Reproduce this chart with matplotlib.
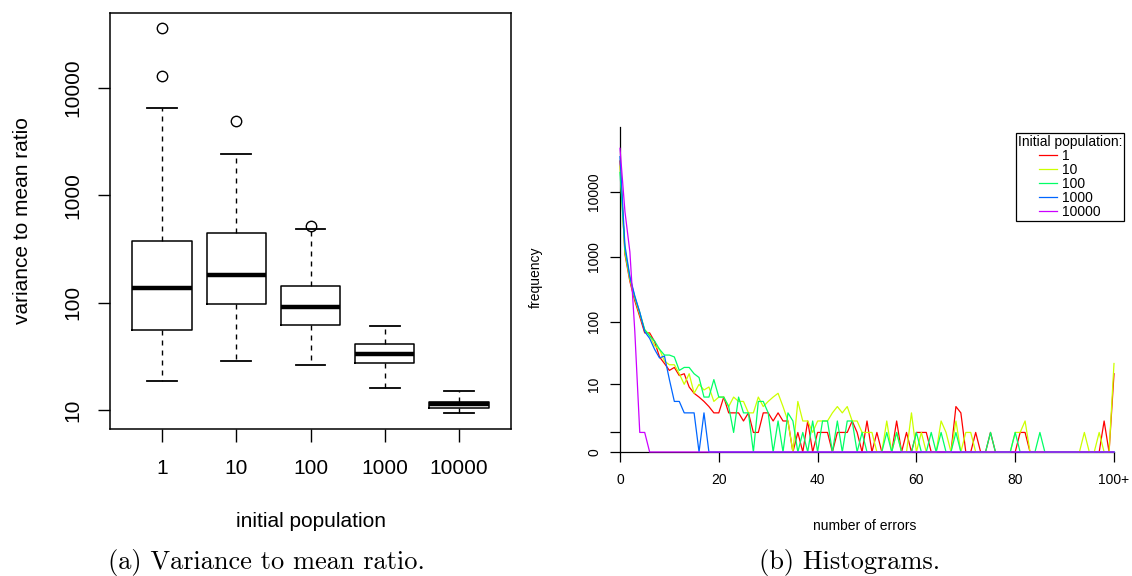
import matplotlib
matplotlib.use('Agg')
import matplotlib.pyplot as plt
from matplotlib.lines import Line2D
import numpy as np

plt.rcParams['font.family'] = ['Liberation Sans', 'DejaVu Sans']

# ---- left panel: variance to mean ratio per initial population
populations = ['1', '10', '100', '1000', '10000']
whislo = [18.6, 28.6, 26.4, 16.0, 9.44]
q1 = [55.2, 97.7, 62.2, 27.6, 10.4]
med = [137, 181, 90.4, 33.4, 11.3]
q3 = [372, 448, 144, 40.9, 11.8]
whishi = [6530, 2420, 482, 60.5, 15.0]
fliers = [[12880, 35800], [4940], [520], [], []]

# ---- right panel: histograms of number of errors (0..100+)
errors = list(range(101))
hist_1 = [30000, 1100, 420, 210, 120, 67, 67, 49, 28, 22,
          17, 19, 14, 15, 9, 7, 6, 5, 4, 3,
          3, 6, 3, 3, 3, 2, 3, 1, 1, 3,
          3, 2, 3, 2, 2, 0, 1, 0, 2, 0,
          1, 1, 1, 0, 1, 1, 1, 2, 1, 0,
          2, 0, 1, 0, 0, 0, 2, 0, 1, 0,
          1, 1, 1, 0, 0, 0, 0, 0, 4, 3,
          0, 0, 1, 0, 0, 1, 0, 0, 0, 0,
          0, 1, 1, 0, 0, 0, 0, 0, 0, 0,
          0, 0, 0, 0, 0, 0, 0, 0, 2, 0,
          15]
hist_10 = [25000, 1200, 450, 230, 130, 75, 62, 42, 37, 24,
           21, 21, 15, 10, 15, 7, 10, 8, 9, 5,
           6, 6, 4, 6, 5, 5, 3, 3, 6, 4,
           5, 6, 7, 4, 2, 0, 5, 2, 2, 1,
           2, 2, 2, 3, 4, 3, 4, 2, 2, 1,
           1, 1, 0, 0, 2, 0, 1, 0, 0, 3,
           0, 1, 0, 0, 0, 2, 1, 0, 2, 0,
           1, 1, 0, 0, 0, 0, 0, 0, 0, 0,
           1, 1, 2, 0, 0, 0, 0, 0, 0, 0,
           0, 0, 0, 0, 1, 0, 0, 1, 0, 0,
           22]
hist_100 = [20000, 1300, 480, 240, 140, 75, 60, 50, 37, 30,
            30, 28, 17, 19, 19, 15, 13, 6, 6, 12,
            6, 6, 4, 1, 6, 3, 3, 0, 5, 5,
            3, 0, 2, 0, 3, 2, 0, 1, 0, 2,
            0, 2, 2, 0, 2, 0, 2, 2, 0, 1,
            0, 0, 0, 0, 1, 0, 1, 0, 0, 0,
            1, 0, 0, 1, 0, 1, 0, 0, 1, 0,
            0, 0, 0, 0, 0, 1, 0, 0, 0, 0,
            1, 0, 0, 0, 0, 1, 0, 0, 0, 0,
            0, 0, 0, 0, 0, 0, 0, 0, 0, 0,
            0]
hist_1000 = [35000, 1500, 500, 250, 140, 70, 55, 37, 27, 29,
             12, 5, 5, 3, 3, 3, 0, 3, 0, 0] + [0] * 81
hist_10000 = [47000, 5000, 1200, 70, 1, 1] + [0] * 95

series = [hist_1, hist_10, hist_100, hist_1000, hist_10000]
colors = ['#FF0000', '#CCFF00', '#00FF66', '#0066FF', '#CC00FF']

fig = plt.figure(figsize=(11.32, 5.76), dpi=100)

# left: boxplot
ax1 = fig.add_axes([110 / 1132, 1 - 428.7 / 576, 401 / 1132, 416 / 576])
stats = []
for i in range(len(populations)):
    stats.append(dict(med=med[i], q1=q1[i], q3=q3[i], whislo=whislo[i],
                      whishi=whishi[i], fliers=fliers[i], label=populations[i]))
ax1.bxp(stats, positions=range(1, 6), widths=0.8, capwidths=0.4,
        boxprops=dict(color='black', linewidth=1.1),
        medianprops=dict(color='black', linewidth=3.2, solid_capstyle='butt'),
        whiskerprops=dict(color='black', linewidth=1.0, linestyle=(0, (3.6, 3.6))),
        capprops=dict(color='black', linewidth=1.3),
        flierprops=dict(marker='o', markersize=7.5, markerfacecolor='none',
                        markeredgecolor='black', markeredgewidth=1.0))
ax1.set_yscale('log')
ax1.set_xlim(0.3, 5.7)
ax1.set_ylim(6.7, 50000)
ax1.set_yticks([10, 100, 1000, 10000])
ax1.set_yticklabels(['10', '100', '1000', '10000'])
ax1.minorticks_off()
ax1.tick_params(axis='both', labelsize=15, length=9, width=1.0, direction='out')
ax1.tick_params(axis='x', pad=13)
ax1.tick_params(axis='y', pad=11)
for lab in ax1.get_yticklabels():
    lab.set_rotation(90)
    lab.set_va('center')
for s in ax1.spines.values():
    s.set_linewidth(1.1)
ax1.set_xlabel('initial population', fontsize=15)
ax1.xaxis.set_label_coords(0.5, -0.200)
ax1.set_ylabel('variance to mean ratio', fontsize=15)
ax1.yaxis.set_label_coords(-0.1945, 0.5)

# right: histograms with log(1+y) axis
ax2 = fig.add_axes([620 / 1132, 1 - 452 / 576, 494 / 1132, 325 / 576])
ax2.set_yscale('function', functions=(lambda v: np.log10(1 + np.maximum(v, 0)),
                                      lambda v: 10 ** v - 1))
for vals, col, name in zip(series, colors, populations):
    ax2.plot(errors, vals, color=col, linewidth=0.9, label=name, clip_on=False, zorder=3)
ax2.set_xlim(0, 100)
ax2.set_ylim(0, 99999)
ax2.set_xticks([0, 20, 40, 60, 80, 100])
ax2.set_xticklabels(['0', '20', '40', '60', '80', '100+'])
ax2.set_yticks([0, 1, 10, 100, 1000, 10000])
ax2.set_yticklabels(['0', '', '10', '100', '1000', '10000'])
ax2.minorticks_off()
ax2.tick_params(axis='both', labelsize=10, length=7, width=0.9, direction='out')
ax2.tick_params(axis='x', pad=8)
ax2.tick_params(axis='y', pad=6.5)
for lab in ax2.get_yticklabels():
    lab.set_rotation(90)
    lab.set_va('center')
ax2.spines['top'].set_visible(False)
ax2.spines['right'].set_visible(False)
ax2.spines['left'].set_linewidth(0.9)
ax2.spines['bottom'].set_linewidth(0.9)
ax2.set_xlabel('number of errors', fontsize=10)
ax2.xaxis.set_label_coords(0.496, -0.206)
ax2.set_ylabel('frequency', fontsize=10)
ax2.yaxis.set_label_coords(-0.156, 0.538)

handles = [Line2D([], [], color=c, linewidth=0.9) for c in colors]
leg = ax2.legend(handles, populations, title='Initial population:',
                 loc='upper left', bbox_to_anchor=(1015.5 / 1132, 1 - 133 / 576),
                 bbox_transform=fig.transFigure, fontsize=10, title_fontsize=10,
                 frameon=True, fancybox=False, edgecolor='black', framealpha=1,
                 borderpad=0.15, labelspacing=0.0, handlelength=1.3,
                 handletextpad=0.4, borderaxespad=0, alignment='center')
leg.get_frame().set_linewidth(0.9)

# captions
fig.text(266 / 1132, 1 - 563 / 576, '(a) Variance to mean ratio.', family='cmr10',
         fontsize=19, ha='center', va='center')
fig.text(850 / 1132, 1 - 563 / 576, '(b) Histograms.', family='cmr10',
         fontsize=19, ha='center', va='center')

fig.savefig('out.png', dpi=100)
